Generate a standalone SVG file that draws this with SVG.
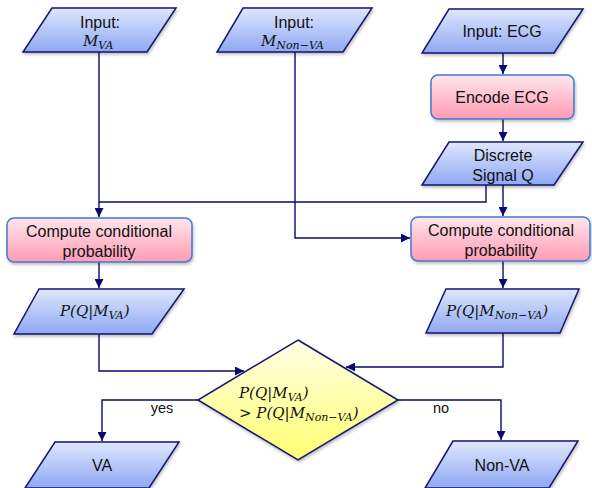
<svg xmlns="http://www.w3.org/2000/svg" width="592" height="488" viewBox="0 0 592 488">
<defs>
<linearGradient id="gBlue" x1="0" y1="0" x2="0" y2="1"><stop offset="0" stop-color="#dfe7fd"/><stop offset="1" stop-color="#8ea8f2"/></linearGradient>
<linearGradient id="gPink" x1="0" y1="0" x2="0" y2="1"><stop offset="0" stop-color="#ffe6ec"/><stop offset="1" stop-color="#ff9bb3"/></linearGradient>
<linearGradient id="gYel" x1="0" y1="0" x2="0" y2="1"><stop offset="0" stop-color="#ffffe6"/><stop offset="1" stop-color="#ffff70"/></linearGradient>
<filter id="sh" x="-10%" y="-10%" width="130%" height="140%"><feDropShadow dx="1" dy="2" stdDeviation="1.5" flood-color="#000" flood-opacity="0.25"/></filter>
<marker id="ah" viewBox="0 0 10 10" refX="10" refY="5" markerWidth="9" markerHeight="9" markerUnits="userSpaceOnUse" orient="auto"><path d="M0,0 L10,5 L0,10 z" fill="#0a0a6e"/></marker>
<style>
.io{fill:url(#gBlue);stroke:#14146e;stroke-width:1.5;filter:url(#sh)}
.pr{fill:url(#gPink);stroke:#3c7ad0;stroke-width:1.5;filter:url(#sh)}
.dc{fill:url(#gYel);stroke:#14146e;stroke-width:1.5;filter:url(#sh)}
.t{font-family:"Liberation Sans",Arial,sans-serif;font-size:16px;fill:#111;text-anchor:middle}
.m{font-family:"DejaVu Serif","Liberation Serif",serif;font-style:italic;font-size:15px;fill:#111}
.s{font-size:11px}
.c{fill:none;stroke:#0a0a6e;stroke-width:1.4}
.lb{font-family:"Liberation Sans",Arial,sans-serif;font-size:14.5px;fill:#111;text-anchor:middle}
</style>
</defs>
<g id="connectors">
<path class="c" d="M99,52 V217" marker-end="url(#ah)"/>
<path class="c" d="M295,52 V238 H410" marker-end="url(#ah)"/>
<path class="c" d="M503,53 V74" marker-end="url(#ah)"/>
<path class="c" d="M503,119 V141" marker-end="url(#ah)"/>
<path class="c" d="M486,185 V202 H99"/>
<path class="c" d="M503,185 V216" marker-end="url(#ah)"/>
<path class="c" d="M99,262 V288" marker-end="url(#ah)"/>
<path class="c" d="M503,261 V288" marker-end="url(#ah)"/>
<path class="c" d="M99,334 V371 H244" marker-end="url(#ah)"/>
<path class="c" d="M503,333 V367 H346" marker-end="url(#ah)"/>
<path class="c" d="M198,400 H102 V441" marker-end="url(#ah)"/>
<path class="c" d="M398,400 H501 V440" marker-end="url(#ah)"/>
<text class="lb" x="162" y="413">yes</text>
<text class="lb" x="441" y="413">no</text>
</g>
<g id="in_mva">
<polygon class="io" points="52,8 176,8 147,52 23,52"/>
<text class="t" x="100" y="28">Input:</text>
<text class="m" x="83" y="46">M<tspan class="s" dy="3">VA</tspan></text>
</g>
<g id="in_mnonva">
<polygon class="io" points="243,8 372,8 343,52 217,52"/>
<text class="t" x="294" y="28">Input:</text>
<text class="m" x="261" y="46">M<tspan class="s" dy="3">Non−VA</tspan></text>
</g>
<g id="in_ecg">
<polygon class="io" points="449,9 583,9 554,53 422,53"/>
<text class="t" x="502" y="37">Input: ECG</text>
</g>
<g id="encode">
<rect class="pr" x="431" y="75" width="143" height="44" rx="7"/>
<text class="t" x="502" y="103">Encode ECG</text>
</g>
<g id="discrete">
<polygon class="io" points="449,142 583,142 554,185 422,185"/>
<text class="t" x="503" y="161">Discrete</text>
<text class="t" x="503" y="181">Signal Q</text>
</g>
<g id="cp_left">
<rect class="pr" x="7" y="218" width="185" height="44" rx="7"/>
<text class="t" x="99" y="237">Compute conditional</text>
<text class="t" x="99" y="257">probability</text>
</g>
<g id="cp_right">
<rect class="pr" x="411" y="217" width="179" height="44" rx="7"/>
<text class="t" x="501" y="236">Compute conditional</text>
<text class="t" x="501" y="256">probability</text>
</g>
<g id="p_va">
<polygon class="io" points="39,289 184,289 152,334 14,334"/>
<text class="m" x="60" y="316">P(Q|M<tspan class="s" dy="3">VA</tspan><tspan dy="-3">)</tspan></text>
</g>
<g id="p_nonva">
<polygon class="io" points="446,289 579,289 560,333 426,333"/>
<text class="m" x="446" y="316">P(Q|M<tspan class="s" dy="3">Non−VA</tspan><tspan dy="-3">)</tspan></text>
</g>
<g id="decision">
<polygon class="dc" points="298,340 398,400 298,460 198,400"/>
<text class="m" x="239" y="398">P(Q|M<tspan class="s" dy="3">VA</tspan><tspan dy="-3">)</tspan></text>
<text class="m" x="239" y="418">&gt; P(Q|M<tspan class="s" dy="3">Non−VA</tspan><tspan dy="-3">)</tspan></text>
</g>
<g id="va">
<polygon class="io" points="55,442 179,442 149,488 25,488"/>
<text class="t" x="102" y="471">VA</text>
</g>
<g id="nonva">
<polygon class="io" points="453,441 578,441 549,488 425,488"/>
<text class="t" x="502" y="471">Non-VA</text>
</g>
</svg>
